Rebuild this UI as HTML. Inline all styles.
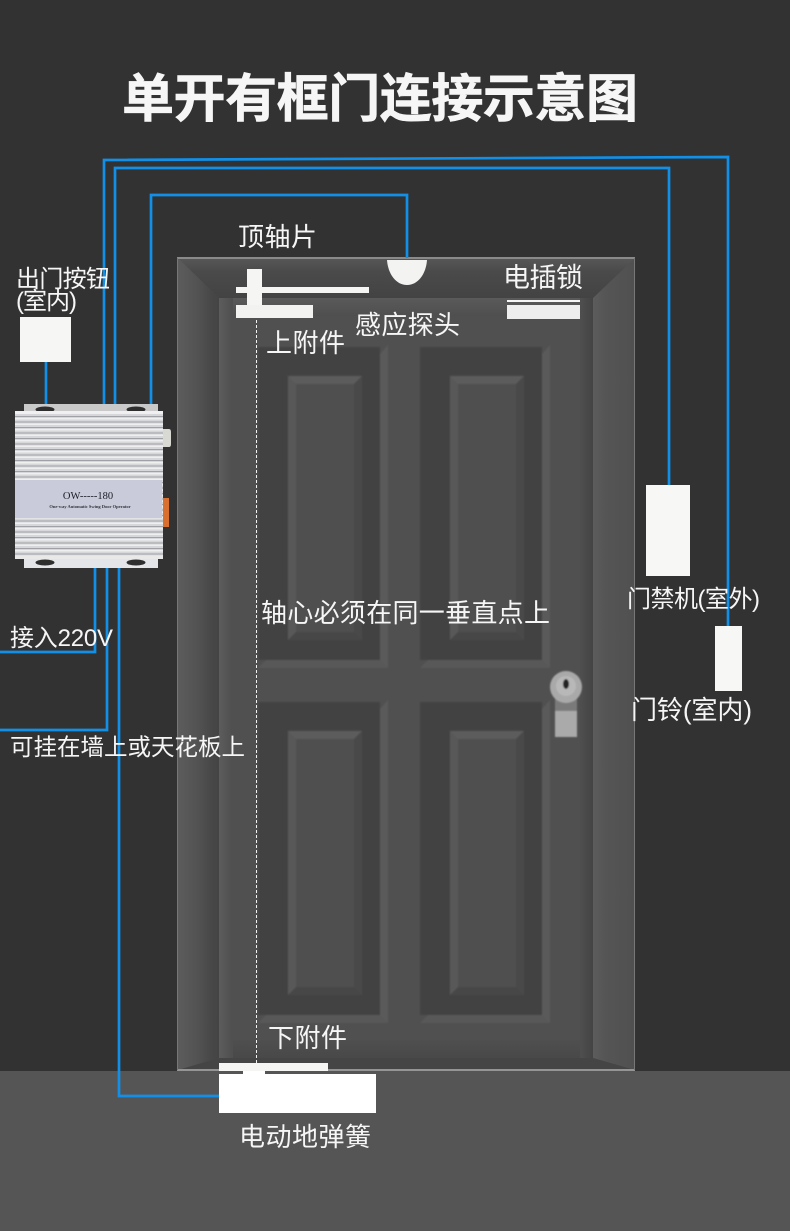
<!DOCTYPE html>
<html><head><meta charset="utf-8"><style>
html,body{margin:0;padding:0;background:#333}
svg{display:block}
text{font-family:"Liberation Sans","Noto Sans CJK SC",sans-serif;fill:#f6f6f6}
</style></head><body>
<svg width="790" height="1231" viewBox="0 0 790 1231" xmlns="http://www.w3.org/2000/svg">
<defs>
<linearGradient id="lf" x1="0" x2="1" y1="0" y2="0"><stop offset="0" stop-color="#5c5c5c"/><stop offset=".5" stop-color="#525252"/><stop offset=".8" stop-color="#484848"/><stop offset="1" stop-color="#444"/></linearGradient>
<linearGradient id="lb" x1="0" x2="1" y1="0" y2="0"><stop offset="0" stop-color="#5c5c5c"/><stop offset="1" stop-color="#4f4f4f"/></linearGradient>
<linearGradient id="rb" x1="0" x2="1" y1="0" y2="0"><stop offset="0" stop-color="#4f4f4f"/><stop offset=".7" stop-color="#474747"/><stop offset="1" stop-color="#444"/></linearGradient>
<linearGradient id="rf" x1="0" x2="1" y1="0" y2="0"><stop offset="0" stop-color="#5c5c5c"/><stop offset=".3" stop-color="#555"/><stop offset="1" stop-color="#505050"/></linearGradient>
<linearGradient id="tf" x1="0" x2="0" y1="0" y2="1"><stop offset="0" stop-color="#585858"/><stop offset=".35" stop-color="#4a4a4a"/><stop offset="1" stop-color="#434343"/></linearGradient>
<linearGradient id="tb" x1="0" x2="0" y1="0" y2="1"><stop offset="0" stop-color="#5a5a5a"/><stop offset="1" stop-color="#4f4f4f"/></linearGradient>
<linearGradient id="bb" x1="0" x2="0" y1="0" y2="1"><stop offset="0" stop-color="#4f4f4f"/><stop offset="1" stop-color="#454545"/></linearGradient>
<filter id="soft" x="-20%" y="-20%" width="140%" height="140%"><feGaussianBlur stdDeviation=".7"/></filter>
<filter id="s2" x="-5%" y="-5%" width="110%" height="110%"><feGaussianBlur stdDeviation=".7"/></filter>
<pattern id="st" width="6" height="5.500" patternUnits="userSpaceOnUse"><rect width="6" height="5.500" fill="#d6d7da"/><rect y="3.500" width="6" height="1" fill="#a0a1a6"/><rect y="0" width="6" height="1.500" fill="#efefef"/></pattern>
<g id="p" filter="url(#s2)">
  <rect x="258" y="347" width="122" height="313" fill="#434343"/>
  <polygon points="380,354 388,345 388,668 380,660" fill="#5a5a5a"/>
  <polygon points="258,668 388,668 380,660 266,660" fill="#585858"/>
  <rect x="288" y="376" width="74" height="264" fill="#4f4f4f"/>
  <polygon points="288,376 362,376 354,384 296,384" fill="#5b5b5b"/>
  <polygon points="288,376 296,384 296,632 288,640" fill="#595959"/>
  <polygon points="362,376 354,384 354,632 362,640" fill="#484848"/>
  <polygon points="288,640 362,640 354,632 296,632" fill="#474747"/>
</g>
</defs>

<rect width="790" height="1231" fill="#323232"/>
<rect y="1071" width="790" height="160" fill="#555"/>

<!-- door -->
<rect x="178" y="258" width="457" height="812" fill="#505050"/>
<rect x="219" y="298" width="374" height="18" fill="url(#tb)"/>
<rect x="219" y="298" width="14" height="770" fill="url(#lb)"/>
<rect x="580" y="298" width="13" height="770" fill="url(#rb)"/>
<rect x="233" y="1040" width="347" height="28" fill="url(#bb)"/>
<polygon points="178,258 219,298 219,1058 178,1070" fill="url(#lf)"/>
<polygon points="635,258 593,298 593,1058 635,1070" fill="url(#rf)"/>
<polygon points="178,258 635,258 593,298 219,298" fill="url(#tf)"/>
<polygon points="178,1070 219,1058 593,1058 635,1070" fill="#454545"/>
<rect x="177" y="257" width="458" height="2" fill="#8a8a8a"/>
<rect x="177" y="1069" width="458" height="2" fill="#959595"/>
<rect x="177" y="258" width="1" height="812" fill="#777"/>
<rect x="634" y="258" width="1" height="812" fill="#777"/>
<use href="#p"/>
<use href="#p" x="162"/>
<use href="#p" y="355"/>
<use href="#p" x="162" y="355"/>

<!-- handle -->
<g filter="url(#soft)">
<rect x="555" y="695" width="22" height="20" fill="#7a7a7a"/>
<circle cx="566" cy="687" r="16" fill="#a9a9a9"/>
<circle cx="566" cy="686" r="10" fill="#b8b8b8"/>
<ellipse cx="566" cy="684" rx="3" ry="5" fill="#222"/>
<rect x="555" y="711" width="22" height="26" fill="#aaa"/>
</g>

<!-- wires -->
<g fill="none" stroke="#1290e8" stroke-width="2.700">
<path d="M104 404V160L728 157V626"/>
<path d="M115 404V168H669V485"/>
<path d="M151 404V195H407V258"/>
<path d="M46 362V404"/>
<path d="M95 568V652H0"/>
<path d="M107 568V730H0"/>
<path d="M119 568V1096H219"/>
</g>

<!-- door hardware -->
<path d="M387 260H427C426 274 418 285 407 285C396 285 388 274 387 260Z" fill="#f3f3f1"/>
<rect x="247" y="269" width="15" height="37" fill="#f5f5f3"/>
<rect x="236" y="287" width="133" height="6" fill="#f5f5f3"/>
<rect x="236" y="305" width="77" height="13" fill="#f2f2f0"/>
<rect x="507" y="300" width="73" height="2" fill="#f5f5f5"/>
<rect x="507" y="305" width="73" height="14" fill="#eeeeee"/>
<line x1="256.500" y1="320" x2="256.500" y2="1063" stroke="#f2f2f2" stroke-width="1" stroke-dasharray="3 2"/>
<rect x="219" y="1063" width="109" height="8" fill="#f5f5f3"/>
<rect x="243" y="1071" width="22" height="4" fill="#fff"/>
<rect x="219" y="1074" width="157" height="39" fill="#fff"/>

<!-- boxes -->
<rect x="20" y="317" width="51" height="45" fill="#f6f6f4"/>
<rect x="646" y="485" width="44" height="91" fill="#f7f7f5"/>
<rect x="715" y="626" width="27" height="65" fill="#f7f7f5"/>

<!-- controller -->
<path d="M163 429h6q2 0 2 3v12q0 3-2 3h-6z" fill="#d9d9d4"/>
<rect x="163" y="498" width="6" height="29" fill="#d9702f"/>
<rect x="24" y="404" width="134" height="8" fill="#c9c9c9"/>
<rect x="24" y="558" width="134" height="10" fill="#e4e5e8"/>
<ellipse cx="45" cy="409.500" rx="9.500" ry="3" fill="#2e2e2e"/>
<ellipse cx="136" cy="409.500" rx="9.500" ry="3" fill="#2e2e2e"/>
<ellipse cx="45" cy="562.500" rx="9.500" ry="3" fill="#2e2e2e"/>
<ellipse cx="136" cy="562.500" rx="9.500" ry="3" fill="#2e2e2e"/>
<rect x="15" y="411" width="148" height="148" fill="url(#st)"/>
<rect x="15" y="411" width="148" height="2" fill="#f0f0f0"/>
<rect x="15" y="556" width="148" height="3" fill="#e9e9e9"/>
<rect x="15" y="480" width="147" height="38" fill="#c9cbdb"/>
<text x="88" y="499" text-anchor="middle" font-size="10.500" style="font-family:'Liberation Serif',serif;fill:#1c1c24">OW-----180</text>
<text x="90" y="508" text-anchor="middle" font-size="4.500" font-weight="700" style="font-family:'Liberation Serif',serif;fill:#33333c">One-way Automatic Swing Door Operator</text>

<!-- labels -->
<text x="122" y="117" font-size="52" font-weight="700" textLength="516" stroke="#f6f6f6" stroke-width=".6">单开有框门连接示意图</text>
<text x="238" y="246" font-size="26" textLength="79">顶轴片</text>
<text x="16" y="287" font-size="24" textLength="94">出门按钮</text>
<text x="16" y="309" font-size="24" textLength="61">(室内)</text>
<text x="503" y="287" font-size="27" textLength="80">电插锁</text>
<text x="355" y="334" font-size="26" textLength="105">感应探头</text>
<text x="266" y="352" font-size="26" textLength="79">上附件</text>
<text x="261" y="622" font-size="26" textLength="289">轴心必须在同一垂直点上</text>
<text x="627" y="607" font-size="24" textLength="133">门禁机(室外)</text>
<text x="631" y="719" font-size="26" textLength="121">门铃(室内)</text>
<text x="10" y="646" font-size="24" textLength="103">接入220V</text>
<text x="10" y="755" font-size="23.500" textLength="235">可挂在墙上或天花板上</text>
<text x="268" y="1047" font-size="26" textLength="79">下附件</text>
<text x="239" y="1146" font-size="26" textLength="132">电动地弹簧</text>
</svg>
</body></html>
